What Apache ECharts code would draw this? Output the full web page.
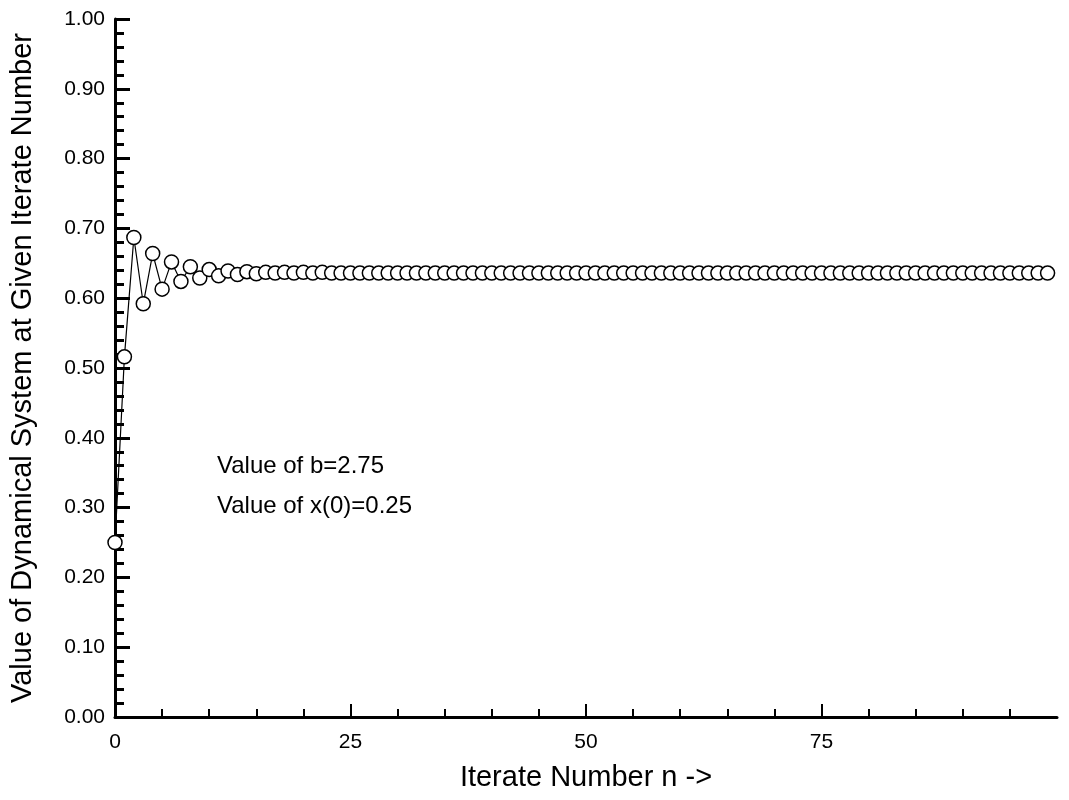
<!DOCTYPE html>
<html>
<head>
<meta charset="utf-8">
<title>Iterates of the logistic map</title>
<script src="https://cdn.jsdelivr.net/npm/echarts@6/dist/echarts.min.js"></script>
<style>
  html, body { margin: 0; padding: 0; background: #fff; }
  #chart { width: 1069px; height: 800px; }
</style>
</head>
<body>
<div id="chart"></div>
<script>
// Iterate numbers n = 0 .. 99
const iterates = [
  0, 1, 2, 3, 4, 5, 6, 7, 8, 9,
  10, 11, 12, 13, 14, 15, 16, 17, 18, 19,
  20, 21, 22, 23, 24, 25, 26, 27, 28, 29,
  30, 31, 32, 33, 34, 35, 36, 37, 38, 39,
  40, 41, 42, 43, 44, 45, 46, 47, 48, 49,
  50, 51, 52, 53, 54, 55, 56, 57, 58, 59,
  60, 61, 62, 63, 64, 65, 66, 67, 68, 69,
  70, 71, 72, 73, 74, 75, 76, 77, 78, 79,
  80, 81, 82, 83, 84, 85, 86, 87, 88, 89,
  90, 91, 92, 93, 94, 95, 96, 97, 98, 99
];

// x(n) for b = 2.75, x(0) = 0.25
const xValues = [
  0.250, 0.516, 0.687, 0.592, 0.664, 0.613, 0.652, 0.624, 0.645, 0.629,
  0.641, 0.632, 0.639, 0.634, 0.638, 0.635, 0.637, 0.636, 0.637, 0.636,
  0.637, 0.636, 0.637, 0.636, 0.636, 0.636, 0.636, 0.636, 0.636, 0.636,
  0.636, 0.636, 0.636, 0.636, 0.636, 0.636, 0.636, 0.636, 0.636, 0.636,
  0.636, 0.636, 0.636, 0.636, 0.636, 0.636, 0.636, 0.636, 0.636, 0.636,
  0.636, 0.636, 0.636, 0.636, 0.636, 0.636, 0.636, 0.636, 0.636, 0.636,
  0.636, 0.636, 0.636, 0.636, 0.636, 0.636, 0.636, 0.636, 0.636, 0.636,
  0.636, 0.636, 0.636, 0.636, 0.636, 0.636, 0.636, 0.636, 0.636, 0.636,
  0.636, 0.636, 0.636, 0.636, 0.636, 0.636, 0.636, 0.636, 0.636, 0.636,
  0.636, 0.636, 0.636, 0.636, 0.636, 0.636, 0.636, 0.636, 0.636, 0.636
];

// Labelled ticks on the iterate axis
const xTickLabels = [0, 25, 50, 75];

const notes = ['Value of b=2.75', 'Value of x(0)=0.25'];

const FONT = 'Liberation Sans';

const chart = echarts.init(document.getElementById('chart'), null, { renderer: 'canvas' });

chart.setOption({
  animation: false,
  backgroundColor: '#fff',
  grid: { left: 113, right: 12, top: 19, bottom: 83, containLabel: false },
  xAxis: {
    type: 'value',
    min: 0,
    max: 100,
    interval: 25,
    name: 'Iterate Number n ->',
    nameLocation: 'middle',
    nameGap: 46,
    nameTextStyle: { fontFamily: FONT, fontSize: 29, color: '#000' },
    axisLine: { show: true, lineStyle: { color: '#000', width: 3 } },
    axisTick: {
      show: true, inside: true, length: 13,
      customValues: xTickLabels,
      lineStyle: { color: '#000', width: 2 }
    },
    minorTick: {
      show: true, splitNumber: 5, length: 8,
      lineStyle: { color: '#000', width: 2 }
    },
    axisLabel: {
      customValues: xTickLabels,
      fontFamily: FONT, fontSize: 21, color: '#000', margin: 15
    },
    splitLine: { show: false },
    minorSplitLine: { show: false }
  },
  yAxis: {
    type: 'value',
    min: 0,
    max: 1,
    interval: 0.1,
    name: 'Value of Dynamical System at Given Iterate Number',
    nameLocation: 'middle',
    nameGap: 78,
    nameRotate: 90,
    nameTextStyle: { fontFamily: FONT, fontSize: 29, color: '#000' },
    axisLine: { show: true, lineStyle: { color: '#000', width: 3 } },
    axisTick: { show: true, inside: true, length: 15, lineStyle: { color: '#000', width: 3 } },
    minorTick: { show: true, splitNumber: 5, length: 9, lineStyle: { color: '#000', width: 3 } },
    axisLabel: {
      fontFamily: FONT, fontSize: 21, color: '#000', margin: 10,
      formatter: v => v.toFixed(2)
    },
    splitLine: { show: false },
    minorSplitLine: { show: false }
  },
  graphic: notes.map((t, i) => ({
    type: 'text',
    left: 217,
    top: 454 + i * 40,
    style: { text: t, font: '24px "' + FONT + '"', fill: '#000' }
  })),
  series: [{
    type: 'line',
    data: iterates.map((n, i) => [n, xValues[i]]),
    clip: false,
    symbol: 'circle',
    symbolSize: 14,
    showAllSymbol: true,
    lineStyle: { color: '#000', width: 1.2 },
    itemStyle: { color: '#fff', borderColor: '#000', borderWidth: 1.5 },
    emphasis: { disabled: true }
  }]
});
</script>
</body>
</html>
